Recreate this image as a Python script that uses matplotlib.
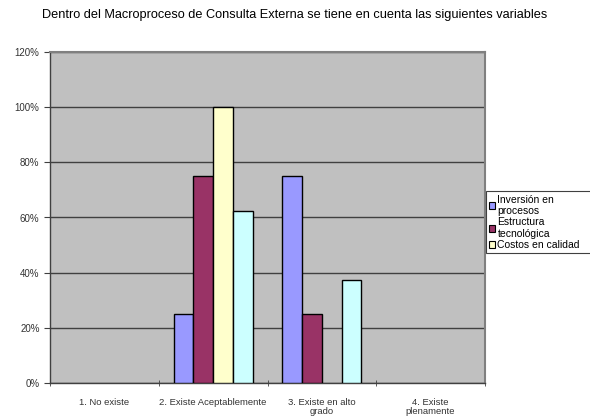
import numpy as np
import matplotlib.pyplot as plt
from matplotlib.patches import Patch

plt.rcParams['font.family'] = ['Liberation Sans', 'DejaVu Sans']

categorias = ['1. No existe', '2. Existe Aceptablemente', '3. Existe en alto\ngrado', '4. Existe\nplenamente']
series = ['Inversión en\nprocesos', 'Estructura\ntecnológica', 'Costos en calidad', 'Otra variable']
valores = [
    [0, 25, 75, 0],
    [0, 75, 25, 0],
    [0, 100, 0, 0],
    [0, 62.5, 37.5, 0],
]
colores = ['#9999FF', '#993366', '#FFFFCC', '#CCFFFF']
titulo = 'Dentro del Macroproceso de Consulta Externa se tiene en cuenta las siguientes variables'

fig = plt.figure(figsize=(5.9, 4.19), dpi=100)
ax = fig.add_axes([50 / 590, 36 / 419, 435 / 590, 331 / 419])
ax.set_facecolor('#C0C0C0')

x = np.arange(len(categorias))
ancho = 1 / 5.5
for i, (vals, col) in enumerate(zip(valores, colores)):
    pos = x + (i - 1.5) * ancho
    vals = np.array(vals, dtype=float)
    hay = vals > 0  # Excel no dibuja las barras en cero
    ax.bar(pos[hay], vals[hay], width=ancho, color=col, edgecolor='black', linewidth=1.0, zorder=3)

ax.set_xlim(-0.5, len(categorias) - 0.5)
ax.set_ylim(0, 120)
ax.set_yticks(range(0, 121, 20))
ax.set_yticklabels([f'{v}%' for v in range(0, 121, 20)])
ax.yaxis.grid(True, color='#404040', linewidth=1.0, zorder=1)
ax.set_axisbelow(True)

ax.set_xticks(x)
ax.set_xticklabels(categorias, linespacing=1.0)
ax.set_xticks(np.arange(-0.5, len(categorias)), minor=True)
ax.tick_params(axis='x', which='major', length=0, pad=11, labelsize=6.8)
ax.tick_params(axis='x', which='minor', length=4, direction='inout', color='#404040')
ax.tick_params(axis='y', length=4, direction='out', labelsize=7, color='#404040')
for lbl in ax.get_xticklabels() + ax.get_yticklabels():
    lbl.set_color('#333333')

for lado in ['top', 'right']:
    ax.spines[lado].set_color('#808080')
    ax.spines[lado].set_linewidth(1.5)
for lado in ['left', 'bottom']:
    ax.spines[lado].set_color('#404040')
    ax.spines[lado].set_linewidth(1.0)

fig.text(0.5, 1 - 15 / 419, titulo, ha='center', va='center', fontsize=9.2)

handles = [Patch(facecolor=c, edgecolor='black', linewidth=0.8) for c in colores[:3]]
leg = fig.legend(handles, series[:3], loc='lower left', mode='expand',
                 bbox_to_anchor=(486 / 590, 1 - 253 / 419, 120 / 590, 60 / 419), fontsize=7.5,
                 handlelength=0.6, handleheight=0.6, handletextpad=0.2,
                 labelspacing=0.1, borderpad=0.3, borderaxespad=0,
                 fancybox=False, framealpha=1)
leg.get_frame().set_edgecolor('#404040')
leg.get_frame().set_linewidth(0.8)

fig.savefig('out.png', dpi=100)
